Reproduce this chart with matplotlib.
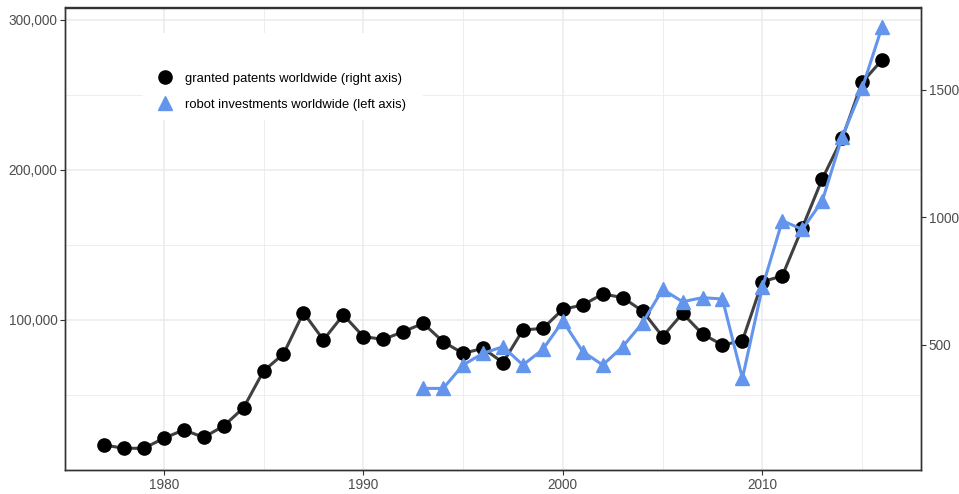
import matplotlib
matplotlib.use('Agg')
import matplotlib.pyplot as plt
from matplotlib.ticker import FuncFormatter, FixedLocator
from matplotlib.patches import Rectangle
from matplotlib.lines import Line2D

plt.rcParams['font.family'] = ['Liberation Sans', 'DejaVu Sans']

# granted patents worldwide (right axis)
patent_years = list(range(1977, 2017))
patents = [108, 95, 95, 134, 167, 138, 182, 254, 398, 465,
           627, 520, 618, 533, 522, 552, 585, 513, 467, 487,
           431, 559, 565, 640, 657, 700, 686, 633, 533, 624,
           543, 500, 517, 748, 771, 960, 1151, 1311, 1530, 1618]

# robot investments worldwide (left axis)
robot_years = list(range(1993, 2017))
robots = [54400, 54400, 70000, 77800, 82200, 70000, 80400, 99300,
          78900, 70000, 82200, 98200, 120400, 112200, 114900, 114000,
          61100, 121800, 166200, 160400, 179300, 222200, 254400, 295600]

label_patents = 'granted patents worldwide (right axis)'
label_robots = 'robot investments worldwide (left axis)'

W, H = 959, 494
fig = plt.figure(figsize=(W / 100, H / 100), dpi=100)
x0, x1, y0, y1 = 65, 921, 7.5, 470
rect = [x0 / W, 1 - y1 / H, (x1 - x0) / W, (y1 - y0) / H]

# base axes: left scale + grid
ax = fig.add_axes(rect)
ax.set_xlim(1975.05, 2017.95)
ax.set_ylim(0, 308333)
ax.xaxis.set_major_locator(FixedLocator([1980, 1990, 2000, 2010]))
ax.xaxis.set_minor_locator(FixedLocator([1975, 1985, 1995, 2005, 2015]))
ax.yaxis.set_major_locator(FixedLocator([100000, 200000, 300000]))
ax.yaxis.set_minor_locator(FixedLocator([50000, 150000, 250000]))
ax.yaxis.set_major_formatter(FuncFormatter(lambda v, p: f'{int(v):,}'))
ax.grid(which='major', color='#EBEBEB', linewidth=1.1)
ax.grid(which='minor', color='#EBEBEB', linewidth=0.6)
ax.set_axisbelow(True)
ax.tick_params(which='major', length=3.5, width=0.8, color='#333333',
               labelsize=9.8, labelcolor='#4D4D4D', pad=2)
ax.tick_params(which='minor', length=0)
for s in ax.spines.values():
    s.set_color('#333333')
    s.set_linewidth(1.0)

# patents on right axis
axp = ax.twinx()
axp.set_ylim(9.8, 1823.5)
axp.yaxis.set_major_locator(FixedLocator([500, 1000, 1500]))
axp.tick_params(which='major', length=3.5, width=0.8, color='#333333',
                labelsize=9.8, labelcolor='#4D4D4D', pad=2)
axp.plot(patent_years, patents, color='#404040', linewidth=2.2, zorder=2)
axp.plot(patent_years, patents, linestyle='none', marker='o', markersize=9.5,
         color='black', zorder=3)
for s in axp.spines.values():
    s.set_color('#333333')
    s.set_linewidth(1.0)

# robots on top, same scale as left axis
axr = ax.twinx()
axr.set_ylim(ax.get_ylim())
axr.axis('off')
axr.plot(robot_years, robots, color='#6495ED', linewidth=2.2, zorder=2)
axr.plot(robot_years, robots, linestyle='none', marker='^', markersize=10.5,
         color='#6495ED', zorder=3)

# legend with white background
axr.add_patch(Rectangle((0.0911, 0.757), 0.327, 0.188, transform=axr.transAxes,
                        facecolor='white', edgecolor='none', zorder=4))
handles = [Line2D([], [], linestyle='none', marker='o', markersize=9.5, color='black'),
           Line2D([], [], linestyle='none', marker='^', markersize=10.5, color='#6495ED')]
leg = axr.legend(handles, [label_patents, label_robots], loc='upper left',
                 bbox_to_anchor=(0.1086, 0.859), frameon=False, fontsize=9.35,
                 handlelength=1.05, handletextpad=1.05, labelspacing=1.05,
                 borderpad=0, borderaxespad=0)
leg.set_zorder(5)

fig.savefig('out.png', dpi=100)
